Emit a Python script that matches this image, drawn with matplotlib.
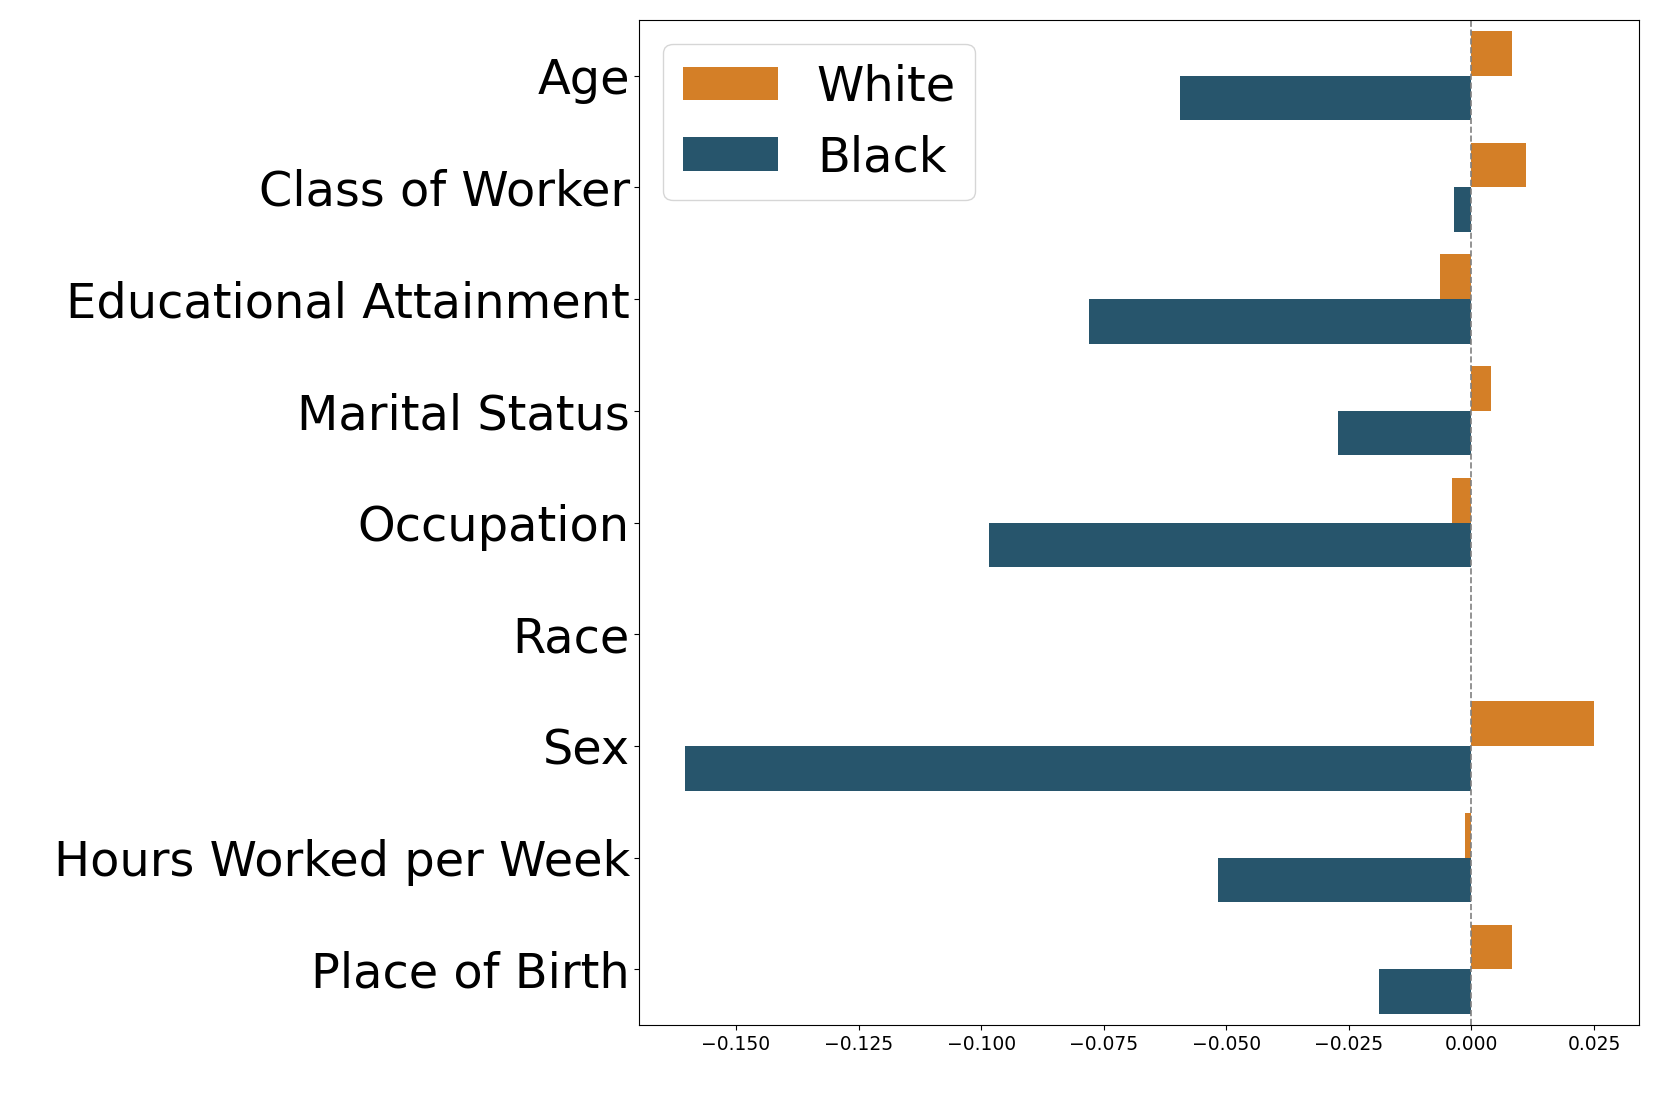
import numpy as np
import matplotlib
matplotlib.use("Agg")
import matplotlib.pyplot as plt

features = ["Age", "Class of Worker", "Educational Attainment", "Marital Status",
            "Occupation", "Race", "Sex", "Hours Worked per Week", "Place of Birth"]
white = [0.0082, 0.0112, -0.0065, 0.0039, -0.0039, 0.0, 0.0250, -0.0013, 0.0083]
black = [-0.0594, -0.0035, -0.0779, -0.0272, -0.0984, 0.0, -0.1604, -0.0516, -0.0188]

WHITE_COLOR = "#D47F27"
BLACK_COLOR = "#27556C"

fig = plt.figure(figsize=(16.61, 11.07), dpi=100)
ax = fig.add_axes([0.385, 0.074, 0.602, 0.908])

y = np.arange(len(features))
ax.barh(y - 0.2, white, height=0.4, color=WHITE_COLOR, label="White")
ax.barh(y + 0.2, black, height=0.4, color=BLACK_COLOR, label="Black")
ax.axvline(0, color="gray", linestyle="--", linewidth=1.2)

ax.set_yticks(y)
ax.set_yticklabels(features, fontsize=34.5)
ax.set_ylim(len(features) - 0.5, -0.5)
ax.tick_params(axis="x", labelsize=13.5)
ax.set_xticks([-0.150, -0.125, -0.100, -0.075, -0.050, -0.025, 0.000, 0.025])

ax.legend(loc="upper left", fontsize=34.5)

fig.savefig("out.png", dpi=100)
